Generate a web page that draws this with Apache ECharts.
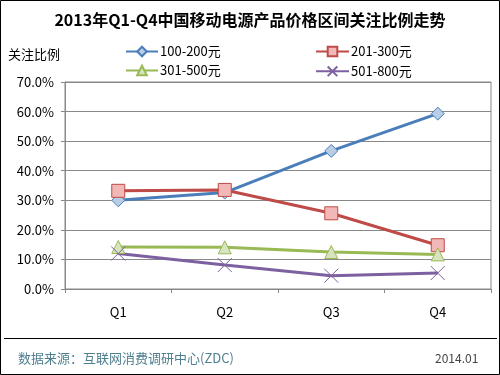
<!DOCTYPE html>
<html><head><meta charset="utf-8">
<script src="https://cdn.jsdelivr.net/npm/echarts@6/dist/echarts.min.js"></script>
<style>html,body{margin:0;padding:0;background:#fff}#c{width:500px;height:375px}</style>
</head><body><div id="c"></div>
<script>
var categories = ['Q1', 'Q2', 'Q3', 'Q4'];
var s100_200 = [30.0, 32.6, 46.7, 59.3];
var s201_300 = [33.2, 33.5, 25.6, 14.8];
var s301_500 = [14.2, 14.1, 12.5, 11.7];
var s501_800 = [12.0, 8.1, 4.5, 5.4];
var seriesNames = ['100-200元', '201-300元', '301-500元', '501-800元'];
var yTicks = [0, 10, 20, 30, 40, 50, 60, 70];

var FONT = '"Noto Sans CJK SC", "Open Sans", sans-serif';
var chart = echarts.init(document.getElementById('c'));
function mk(name, data, color, symbol, fill, size) {
  return {
    name: name, type: 'line', data: data, symbol: symbol, symbolSize: size,
    lineStyle: {color: color, width: 3},
    itemStyle: {color: fill, borderColor: color, borderWidth: 1},
    emphasis: {disabled: true}, z: 3
  };
}
chart.setOption({
  animation: false,
  backgroundColor: '#fff',
  title: {
    text: '2013年Q1-Q4中国移动电源产品价格区间关注比例走势',
    left: 'center', top: 7,
    textStyle: {fontSize: 16, fontWeight: 'bold', color: '#000', fontFamily: FONT}
  },
  legend: [{
    data: [seriesNames[0], seriesNames[2]], orient: 'vertical', left: 120, top: 40,
    itemWidth: 32, itemHeight: 12, itemGap: 6,
    textStyle: {fontSize: 13, color: '#000', fontFamily: FONT, padding: [0,0,0,-3]}
  }, {
    data: [seriesNames[1], seriesNames[3]], orient: 'vertical', left: 310, top: 40,
    itemWidth: 33, itemHeight: 12, itemGap: 6,
    textStyle: {fontSize: 13, color: '#000', fontFamily: FONT, padding: [0,0,0,-3]}
  }],
  grid: {left: 65, right: 9, top: 82, bottom: 86, show: true, borderColor: '#888', borderWidth: 1},
  xAxis: {
    type: 'category', data: categories, boundaryGap: true,
    axisLine: {lineStyle: {color: '#888'}},
    axisTick: {show: true, length: 4, inside: false, lineStyle: {color: '#888'}},
    axisLabel: {color: '#000', fontSize: 13, margin: 17, fontFamily: FONT}
  },
  yAxis: {
    type: 'value', min: yTicks[0], max: yTicks[yTicks.length - 1], interval: 10,
    axisLine: {show: true, lineStyle: {color: '#888'}},
    axisTick: {show: true, length: 4, lineStyle: {color: '#888'}},
    splitLine: {lineStyle: {color: '#888'}},
    axisLabel: {color: '#000', fontSize: 13, margin: 11, fontFamily: FONT,
      formatter: function (v) { return v.toFixed(1) + '%'; }}
  },
  graphic: [
    {type: 'rect', shape: {x: 0.5, y: 0.5, width: 499, height: 374}, style: {fill: 'none', stroke: '#000', lineWidth: 1}, silent: true},
    {type: 'text', left: 8, top: 48, style: {text: '关注比例', fontSize: 13, fill: '#000', fontFamily: FONT}},
    {type: 'line', shape: {x1: 4, y1: 338.5, x2: 497, y2: 338.5}, style: {stroke: '#000', lineWidth: 1}},
    {type: 'text', left: 18, top: 352, style: {text: '数据来源：互联网消费调研中心(ZDC)', fontSize: 13, fill: '#4f7f8f', fontFamily: FONT}},
    {type: 'text', left: 435, top: 352, style: {text: '2014.01', fontSize: 12, fill: '#444', fontFamily: FONT}}
  ],
  series: [
    mk(seriesNames[0], s100_200, '#4A7EBB', 'diamond', '#B9CDE5', 13),
    mk(seriesNames[1], s201_300, '#BE4B48', 'rect', '#F2B8B7', 13),
    mk(seriesNames[2], s301_500, '#98B954', 'triangle', '#D7E4BD', 13),
    {
      name: seriesNames[3], type: 'line', data: s501_800,
      symbol: 'path://M0,0L10,10M10,0L0,10', symbolSize: 14,
      lineStyle: {color: '#7D60A0', width: 3},
      itemStyle: {color: 'none', borderColor: '#7D60A0', borderWidth: 1},
      emphasis: {disabled: true}, z: 3
    }
  ]
});
</script></body></html>
